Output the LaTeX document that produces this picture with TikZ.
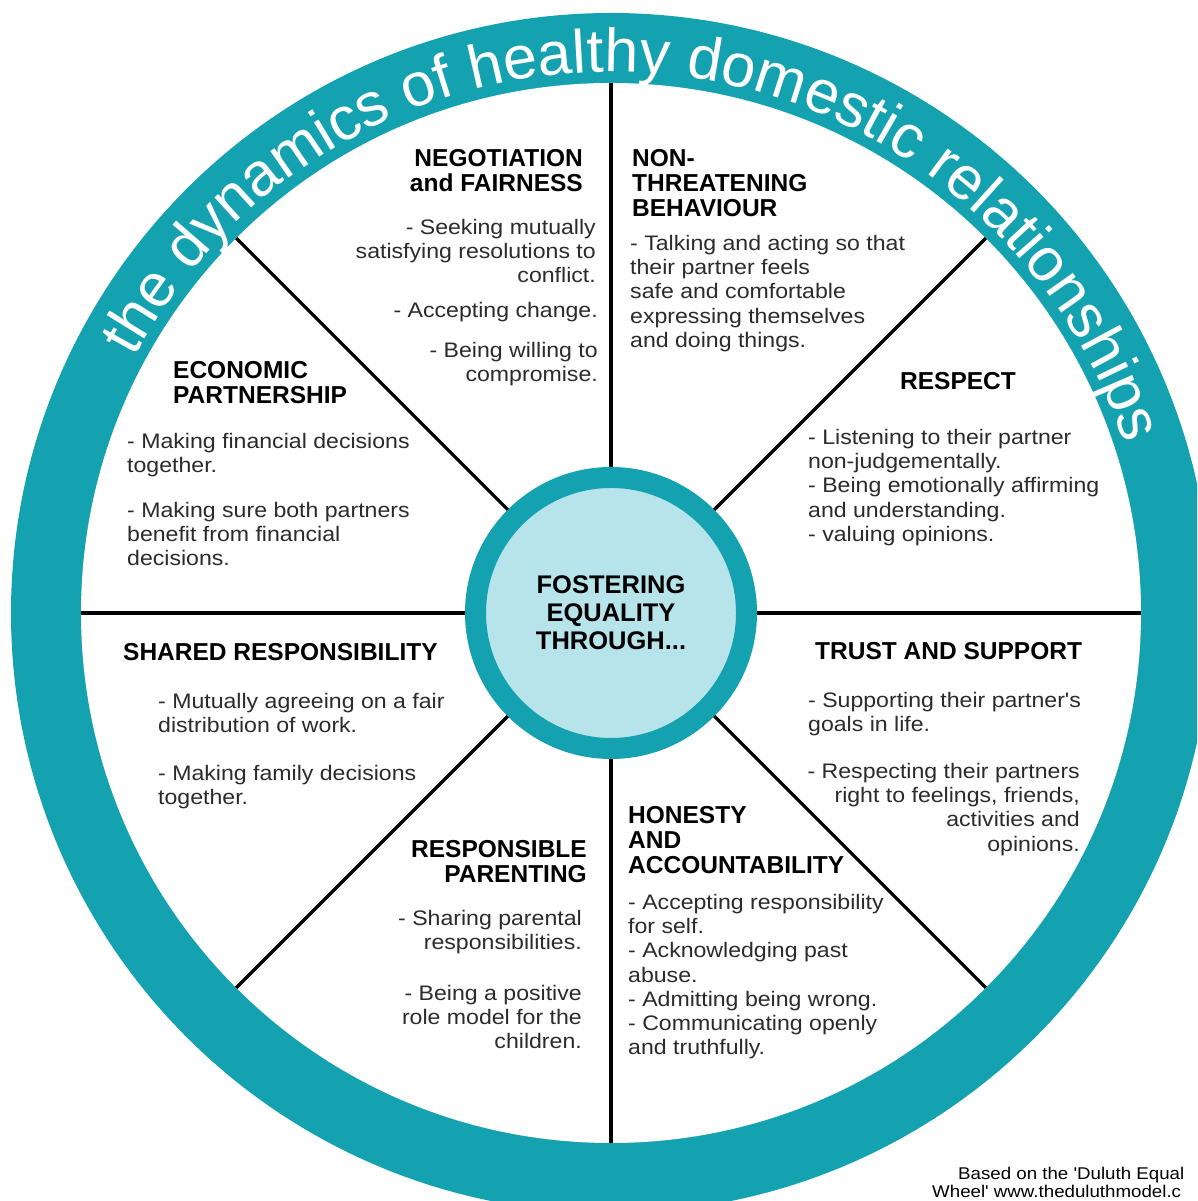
\documentclass[tikz,border=0pt]{standalone}
\usepackage{fontspec}
\setmainfont{Liberation Sans}
\newfontfamily\bodyfam[FakeStretch=1.1]{Liberation Sans}
\usetikzlibrary{decorations.text,calc}
\definecolor{ringteal}{HTML}{14A2B0}
\definecolor{hublight}{HTML}{B6E4EA}
\definecolor{bodygray}{HTML}{2B2B2B}
\newcommand\mybody{\bodyfam\fontsize{21}{24.2}\selectfont}
\newcommand\myhead{\fontsize{24.5}{25.3}\selectfont\bfseries}
\newcommand\myhub{\fontsize{25.5}{28}\selectfont\bfseries}
\newcommand\mytitle{\fontsize{61}{61}\selectfont}
\newcommand\mynote{\bodyfam\fontsize{17}{17.5}\selectfont}
\begin{document}
\begin{tikzpicture}[x=1pt,y=1pt,
  head/.style={font=\myhead, text=black, inner sep=0pt},
  body/.style={font=\mybody, text=bodygray, inner sep=0pt},
  note/.style={font=\mynote, text=black, inner sep=0pt},
  spoke/.style={line width=3.2pt, black}]
\useasboundingbox (0,0) rectangle (1197,1201);
\clip (0,0) rectangle (1197,1201);
\fill[white] (0,0) rectangle (1197,1201);
\coordinate (C) at (611,588);
% outer ring
\fill[ringteal] (C) circle[radius=600pt];
\fill[white] (C) circle[radius=530pt];
% spokes
\foreach \a in {0,45,...,315} \draw[spoke] (C) -- ++(\a:530pt);
% hub
\node[circle, draw=ringteal, fill=hublight, line width=21pt, minimum size=271pt,
      inner sep=0pt, font=\myhub, align=center] (hub) at (C) {FOSTERING\\EQUALITY\\THROUGH...};
% title along the ring
\path[decorate, decoration={text along path,
      text={|\mytitle|the dynamics of healthy domestic relationships},
      text align=center, text color=white}]
  ($(C)+(175:541pt)$) arc[start angle=175, end angle=-5, radius=541pt];
% NEGOTIATION and FAIRNESS
\node[head, anchor=north east, align=right] (negH) at (583,1052) {NEGOTIATION\\and FAIRNESS};
\node[body, anchor=north east, align=right] (negA) at (596,982) {- Seeking mutually\\satisfying resolutions to\\conflict.};
\node[body, anchor=north east, align=right] (negB) at (598,899) {- Accepting change.};
\node[body, anchor=north east, align=right] (negC) at (598,859) {- Being willing to\\compromise.};
% NON-THREATENING BEHAVIOUR
\node[head, anchor=north west, align=left] (nonH) at (632,1052) {NON-\\THREATENING\\BEHAVIOUR};
\node[body, anchor=north west, align=left] (nonA) at (630,966) {- Talking and acting so that\\their partner feels\\safe and comfortable\\expressing themselves\\and doing things.};
% RESPECT
\node[head, anchor=north] (resH) at (958,829) {RESPECT};
\node[body, anchor=north west, align=left] (resA) at (808,772) {- Listening to their partner\\non-judgementally.\\- Being emotionally affirming\\and understanding.\\- valuing opinions.};
% ECONOMIC PARTNERSHIP
\node[head, anchor=north west, align=left] (ecoH) at (173,840) {ECONOMIC\\PARTNERSHIP};
\node[body, anchor=north west, align=left] (ecoA) at (127,768) {- Making financial decisions\\together.};
\node[body, anchor=north west, align=left] (ecoB) at (127,699) {- Making sure both partners\\benefit from financial\\decisions.};
% SHARED RESPONSIBILITY
\node[head, anchor=north west] (shaH) at (123,558) {SHARED RESPONSIBILITY};
\node[body, anchor=north west, align=left] (shaA) at (158,508) {- Mutually agreeing on a fair\\distribution of work.};
\node[body, anchor=north west, align=left] (shaB) at (158,436) {- Making family decisions\\together.};
% TRUST AND SUPPORT
\node[head, anchor=north west] (truH) at (815,559) {TRUST AND SUPPORT};
\node[body, anchor=north west, align=left] (truA) at (808,509) {- Supporting their partner's\\goals in life.};
\node[body, anchor=north east, align=right] (truB) at (1080,438) {- Respecting their partners\\right to feelings, friends,\\activities and\\opinions.};
% HONESTY AND ACCOUNTABILITY
\node[head, anchor=north west, align=left] (honH) at (628,395) {HONESTY\\AND\\ACCOUNTABILITY};
\node[body, anchor=north west, align=left] (honA) at (628,307) {- Accepting responsibility\\for self.\\- Acknowledging past\\abuse.\\- Admitting being wrong.\\- Communicating openly\\and truthfully.};
% RESPONSIBLE PARENTING
\node[head, anchor=north east, align=right] (parH) at (587,361) {RESPONSIBLE\\PARENTING};
\node[body, anchor=north east, align=right] (parA) at (582,291) {- Sharing parental\\responsibilities.};
\node[body, anchor=north east, align=right] (parB) at (582,216) {- Being a positive\\role model for the\\children.};
% attribution
\node[note, anchor=north west] (src1) at (958,34) {Based on the 'Duluth Equal};
\node[note, anchor=north west] (src2) at (932,16) {Wheel' www.theduluthmodel.c};
\end{tikzpicture}
\end{document}
